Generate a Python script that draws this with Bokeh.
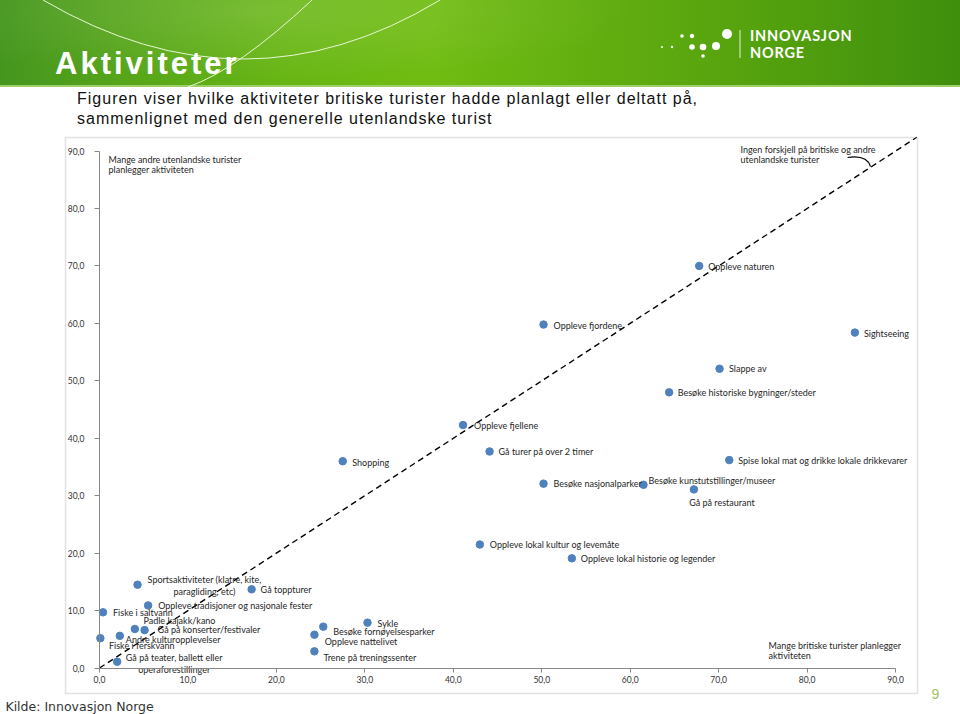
from bokeh.plotting import figure
from bokeh.models import (ColumnDataSource, LinearAxis, FixedTicker, Div, BoxAnnotation,
                          GlobalInlineStyleSheet, Range1d)
from bokeh.layouts import column
from bokeh.core.properties import value
from bokeh.embed import file_html
from bokeh.resources import INLINE

# ---------------- data ----------------
activities = [
    "Oppleve naturen", "Oppleve fjordene", "Sightseeing", "Slappe av",
    "Besøke historiske bygninger/steder", "Oppleve fjellene", "Gå turer på over 2 timer",
    "Spise lokal mat og drikke lokale drikkevarer", "Shopping", "Besøke nasjonalparker",
    "Besøke kunstutstillinger/museer", "Gå på restaurant", "Oppleve lokal kultur og levemåte",
    "Oppleve lokal historie og legender", "Sportsaktiviteter (klatre, kite,\nparagliding, etc)",
    "Gå toppturer", "Oppleve tradisjoner og nasjonale fester", "Fiske i saltvann",
    "Padle kajakk/kano", "Gå på konserter/festivaler", "Andre kulturopplevelser",
    "Fiske i ferskvann", "Gå på teater, ballett eller\noperaforestillinger",
    "Besøke fornøyelsesparker", "Sykle", "Oppleve nattelivet", "Trene på treningssenter",
]
british = [67.8, 50.2, 85.4, 70.1, 64.4, 41.1, 44.1, 71.2, 27.5, 50.2, 61.5, 67.2, 43.0, 53.4,
           4.3, 17.2, 5.5, 0.4, 4.0, 5.1, 2.3, 0.1, 2.0, 25.3, 30.3, 24.3, 24.3]
others = [70.0, 59.8, 58.4, 52.1, 48.0, 42.3, 37.7, 36.2, 36.0, 32.1, 31.9, 31.1, 21.5, 19.1,
          14.5, 13.7, 10.9, 9.7, 6.8, 6.6, 5.6, 5.2, 1.1, 7.2, 7.9, 5.8, 2.9]

tick_values = [0, 10, 20, 30, 40, 50, 60, 70, 80, 90]
tick_labels = ["0,0", "10,0", "20,0", "30,0", "40,0", "50,0", "60,0", "70,0", "80,0", "90,0"]

# label placement (screen px offsets) – styling, not data
label_dx = [9, 10, 9, 9.5, 8.5, 11, 9, 9, 9.5, 10, 5, -4.7, 10, 9, 67, 9, 10, 10, 8.6, 13, 6,
            8.6, 57, 10, 10, 10.3, 9]
label_dy = [1, 1, 0.5, 0, 0, 0.7, 0.3, 0.7, 1, 0, -4.7, 12.7, 0, 0.6, 0.5, 0.6, 0, 0.3, -8.7,
            -0.4, 4, 7.6, 1.5, 4.4, 1, 6.3, 6]
label_center = [14, 22]

diag = [0, 92.4]

# ---------------- figure (frame = whole canvas) ----------------
p = figure(width=960, height=579, output_backend="svg", toolbar_location=None,
           x_range=Range1d(-11.19, 97.34), y_range=Range1d(-8.09, 92.71),
           x_axis_type=None, y_axis_type=None, min_border=0)
p.outline_line_color = None
p.background_fill_color = "white"
p.border_fill_color = "white"

# chart box
p.add_layout(BoxAnnotation(left=-3.84, right=92.48, bottom=-4.44, top=92.36,
                           fill_alpha=0, line_color="#a0a0a0", line_width=1.5))

overrides = dict(zip(tick_values, tick_labels))
for side in ("below", "left"):
    ax = LinearAxis(fixed_location=0, bounds=(0, 90), ticker=FixedTicker(ticks=tick_values),
                    major_label_overrides=overrides)
    ax.axis_line_color = "#878787"
    ax.major_tick_line_color = "#878787"
    ax.minor_tick_line_color = None
    ax.major_tick_in = 0
    ax.major_tick_out = 5 if side == "left" else 4
    ax.major_label_standoff = 10 if side == "left" else 4
    ax.major_label_text_font = "Lato"
    ax.major_label_text_font_size = "8.5px"
    ax.major_label_text_color = "#333333"
    p.add_layout(ax, side)

p.line(diag, diag, line_color="black", line_width=1.4, line_dash="6 4")

src = ColumnDataSource(dict(x=british, y=others))
p.scatter("x", "y", source=src, size=7.5, fill_color="#4f81bd", line_color="#4f81bd")

left_idx = [i for i in range(len(activities)) if i not in label_center]
for idx, align in ((left_idx, "left"), (label_center, "center")):
    s = ColumnDataSource(dict(
        x=[british[i] for i in idx], y=[others[i] for i in idx],
        t=[activities[i] for i in idx], dx=[label_dx[i] for i in idx],
        dy=[label_dy[i] for i in idx]))
    p.text(x="x", y="y", text="t", x_offset="dx", y_offset="dy", source=s,
           text_align=align, text_baseline="middle", text_font=value("Lato"),
           text_font_size="9px", text_color="#262626", text_line_height=1.12)

note_texts = ["Mange andre utenlandske turister\nplanlegger aktiviteten",
              "Ingen forskjell på britiske og andre\nutenlandske turister",
              "Mange britiske turister planlegger\naktiviteten"]
note_x = [1.02, 72.47, 75.64]
note_y = [89.5, 91.3, 4.9]
p.text(x=note_x, y=note_y, text=note_texts, text_align="left", text_baseline="top",
       text_font=value("Lato"), text_font_size="9px", text_color="#262626",
       text_line_height=0.95)
p.bezier(x0=[84.57], y0=[88.88], x1=[87.17], y1=[87.31], cx0=[86.4], cy0=[89.3],
         cx1=[86.95], cy1=[88.4], line_color="black", line_width=1.2)

# footer texts
p.text(x=[-10.63], y=[-6.7], text=["Kilde: Innovasjon Norge"], text_align="left",
       text_baseline="middle", text_font=value("DejaVu Sans"), text_font_size="12.5px",
       text_color="#333333")
p.text(x=[94.5], y=[-4.6], text=["9"], text_align="center", text_baseline="middle",
       text_font=value("Liberation Sans"), text_font_size="14px", text_color="#a3bf5c")

# ---------------- header ----------------
header_html = """
<div style="position:relative;width:960px;height:135px;background:#ffffff;overflow:hidden;">
  <div style="position:absolute;left:0;top:0;width:960px;height:87px;
       background:linear-gradient(90deg,#45961f 0%,#55a41a 12%,#68b614 30%,#70bc12 45%,#62ae10 62%,#529f0e 82%,#3f8f0d 100%);"></div>
  <div style="position:absolute;left:0;top:0;width:960px;height:87px;
       background:radial-gradient(ellipse 380px 70px at 260px 10px,rgba(255,255,255,0.13),rgba(255,255,255,0));"></div>
  <div style="position:absolute;left:0;top:85px;width:960px;height:2px;background:#9fcf6a;"></div>
  <svg style="position:absolute;left:0;top:0;" width="960" height="87">
    <path d="M43 0 Q245 118 440 0" stroke="#e9f6d6" stroke-width="1" fill="none"/>
    <path d="M312 0 Q237 70 188 87" stroke="#e9f6d6" stroke-width="1" fill="none"/>
    <circle cx="662" cy="47" r="1" fill="#ffffff"/>
    <circle cx="672" cy="47" r="1.2" fill="#ffffff"/>
    <circle cx="682" cy="36" r="1.8" fill="#ffffff"/>
    <circle cx="692" cy="36" r="2.2" fill="#ffffff"/>
    <circle cx="692" cy="47" r="2.8" fill="#ffffff"/>
    <circle cx="703" cy="47" r="3.3" fill="#ffffff"/>
    <circle cx="716" cy="46" r="4" fill="#ffffff"/>
    <circle cx="727" cy="34" r="5" fill="#ffffff"/>
    <circle cx="703" cy="56" r="1.8" fill="#ffffff"/>
    <line x1="740" y1="30" x2="740" y2="58" stroke="#ffffff" stroke-width="1" opacity="0.85"/>
  </svg>
  <div style="position:absolute;left:55px;top:48px;font-family:'Liberation Sans',Arial,sans-serif;
       font-weight:bold;font-size:31px;line-height:31px;letter-spacing:3px;color:#ffffff;">Aktiviteter</div>
  <div style="position:absolute;left:750px;top:28px;font-family:Lato,sans-serif;font-weight:bold;
       font-size:14.5px;line-height:15px;letter-spacing:0.8px;color:#ffffff;">INNOVASJON</div>
  <div style="position:absolute;left:750px;top:45px;font-family:Lato,sans-serif;font-weight:bold;
       font-size:14.5px;line-height:15px;letter-spacing:0.8px;color:#ffffff;">NORGE</div>
  <div style="position:absolute;left:77px;top:89px;font-family:'Liberation Sans',Arial,sans-serif;
       font-size:16px;line-height:20px;letter-spacing:1px;color:#111111;white-space:nowrap;">
       Figuren viser hvilke aktiviteter britiske turister hadde planlagt eller deltatt på,<br>
       sammenlignet med den generelle utenlandske turist</div>
</div>
"""
header = Div(text=header_html, width=960, height=135, margin=(0, 0, 0, 0))

layout = column(header, p, spacing=0,
                stylesheets=[GlobalInlineStyleSheet(css="html,body{margin:0 !important;padding:0;overflow:hidden;}")])

open("out.html", "w").write(file_html(layout, INLINE))
